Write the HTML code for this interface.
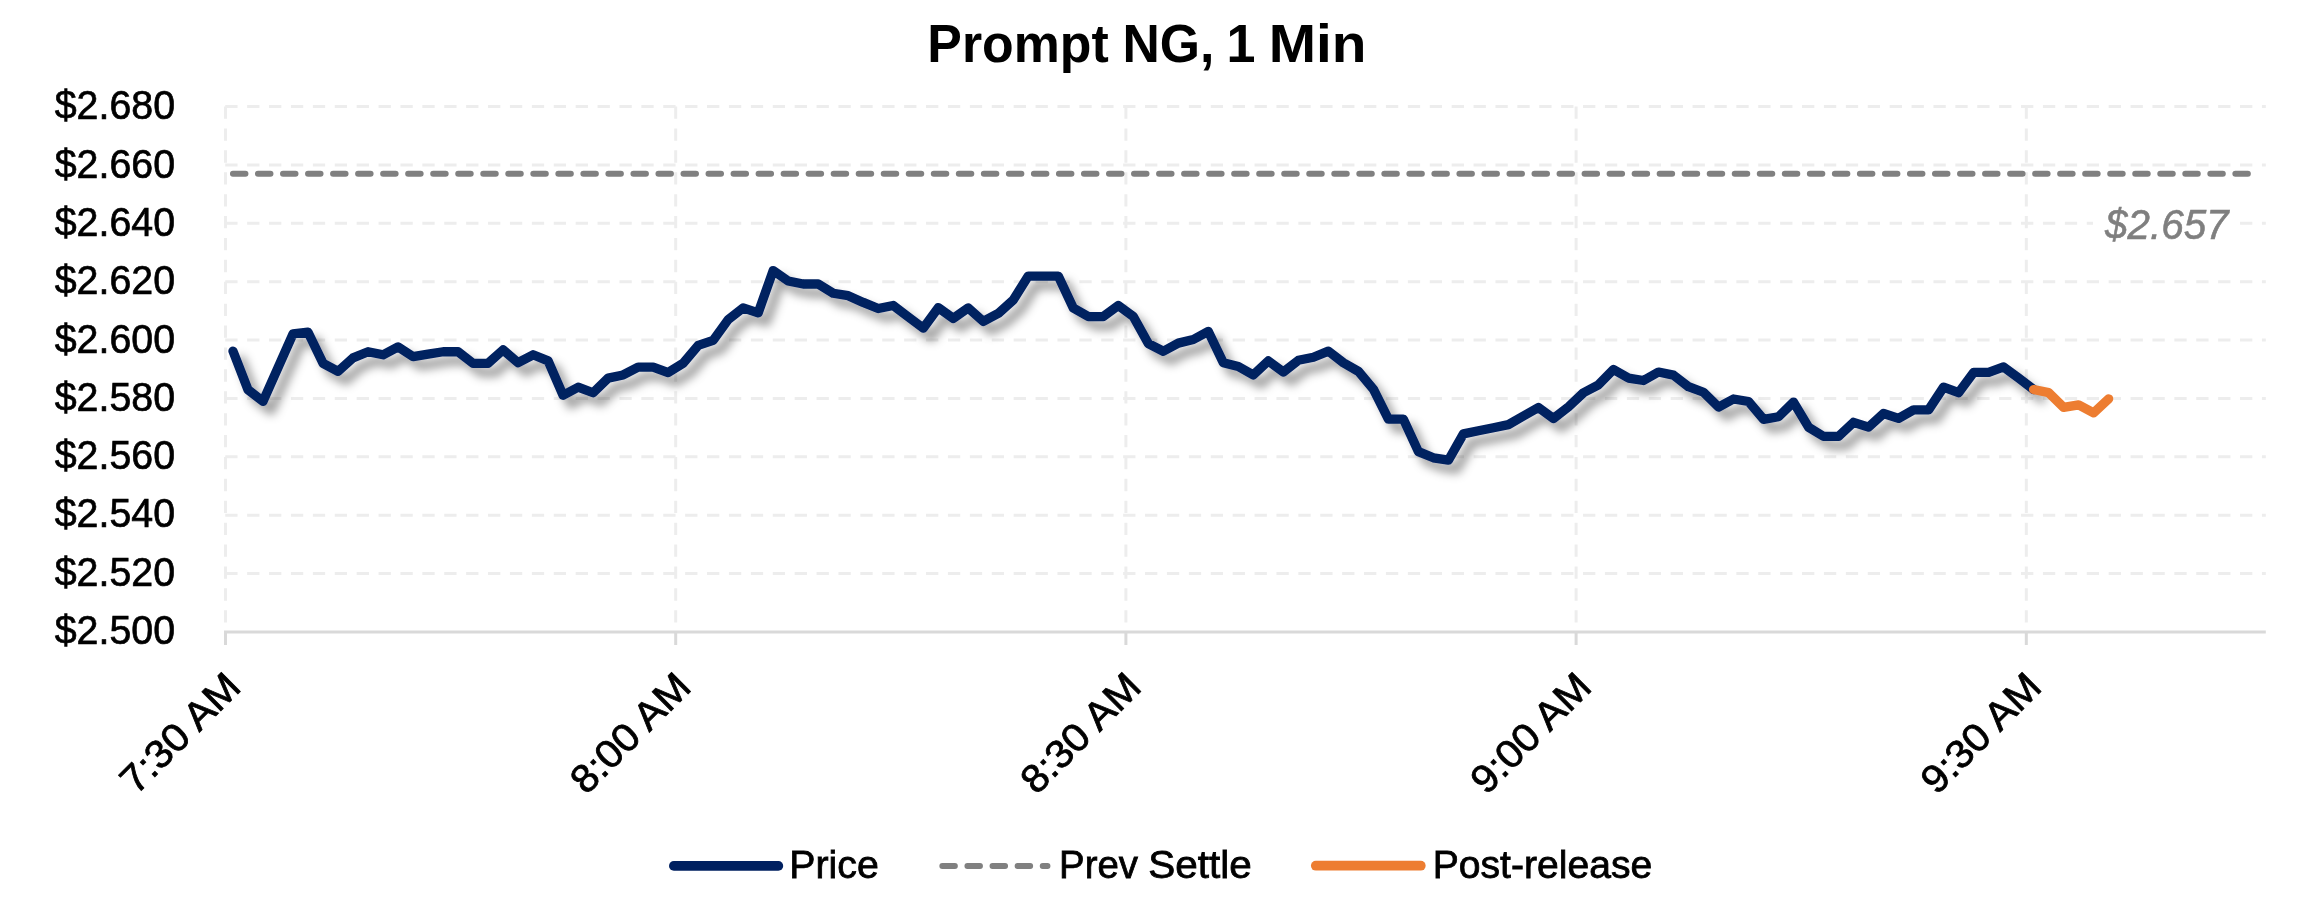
<!DOCTYPE html>
<html><head><meta charset="utf-8"><title>Prompt NG, 1 Min</title>
<style>html,body{margin:0;padding:0;background:#fff;}svg{display:block;will-change:transform;}</style>
</head><body>
<svg width="2324" height="902" viewBox="0 0 2324 902"><defs><filter id="sh" x="-5%" y="-20%" width="110%" height="140%"><feDropShadow dx="8" dy="9" stdDeviation="5" flood-color="#000" flood-opacity="0.38"/></filter></defs><rect width="2324" height="902" fill="#fff"/><line x1="225.25" y1="573.53" x2="2265.80" y2="573.53" stroke="#EDEDED" stroke-width="3" stroke-dasharray="12.3 9.6"/><line x1="225.25" y1="515.16" x2="2265.80" y2="515.16" stroke="#EDEDED" stroke-width="3" stroke-dasharray="12.3 9.6"/><line x1="225.25" y1="456.79" x2="2265.80" y2="456.79" stroke="#EDEDED" stroke-width="3" stroke-dasharray="12.3 9.6"/><line x1="225.25" y1="398.42" x2="2265.80" y2="398.42" stroke="#EDEDED" stroke-width="3" stroke-dasharray="12.3 9.6"/><line x1="225.25" y1="340.05" x2="2265.80" y2="340.05" stroke="#EDEDED" stroke-width="3" stroke-dasharray="12.3 9.6"/><line x1="225.25" y1="281.68" x2="2265.80" y2="281.68" stroke="#EDEDED" stroke-width="3" stroke-dasharray="12.3 9.6"/><line x1="225.25" y1="223.31" x2="2265.80" y2="223.31" stroke="#EDEDED" stroke-width="3" stroke-dasharray="12.3 9.6"/><line x1="225.25" y1="164.94" x2="2265.80" y2="164.94" stroke="#EDEDED" stroke-width="3" stroke-dasharray="12.3 9.6"/><line x1="225.25" y1="106.57" x2="2265.80" y2="106.57" stroke="#EDEDED" stroke-width="3" stroke-dasharray="12.3 9.6"/><line x1="225.50" y1="106.57" x2="225.50" y2="630.40" stroke="#EDEDED" stroke-width="3" stroke-dasharray="12.3 9.6"/><line x1="675.70" y1="106.57" x2="675.70" y2="630.40" stroke="#EDEDED" stroke-width="3" stroke-dasharray="12.3 9.6"/><line x1="1125.90" y1="106.57" x2="1125.90" y2="630.40" stroke="#EDEDED" stroke-width="3" stroke-dasharray="12.3 9.6"/><line x1="1576.10" y1="106.57" x2="1576.10" y2="630.40" stroke="#EDEDED" stroke-width="3" stroke-dasharray="12.3 9.6"/><line x1="2026.30" y1="106.57" x2="2026.30" y2="630.40" stroke="#EDEDED" stroke-width="3" stroke-dasharray="12.3 9.6"/><line x1="224.00" y1="631.90" x2="2265.80" y2="631.90" stroke="#D9D9D9" stroke-width="3"/><line x1="225.50" y1="631.90" x2="225.50" y2="645" stroke="#D9D9D9" stroke-width="3"/><line x1="675.70" y1="631.90" x2="675.70" y2="645" stroke="#D9D9D9" stroke-width="3"/><line x1="1125.90" y1="631.90" x2="1125.90" y2="645" stroke="#D9D9D9" stroke-width="3"/><line x1="1576.10" y1="631.90" x2="1576.10" y2="645" stroke="#D9D9D9" stroke-width="3"/><line x1="2026.30" y1="631.90" x2="2026.30" y2="645" stroke="#D9D9D9" stroke-width="3"/><rect x="2093" y="200" width="147" height="45" fill="#fff"/><line x1="233.00" y1="173.70" x2="2258.68" y2="173.70" stroke="#808080" stroke-width="6.1" stroke-linecap="round" stroke-dasharray="12.4 12.63"/><polyline points="233.00,351.15 248.01,389.75 263.01,401.40 278.02,367.64 293.02,333.97 308.03,332.16 323.03,363.31 338.04,371.36 353.04,357.89 368.05,351.76 383.05,354.77 398.06,346.83 413.06,356.58 428.07,354.17 443.07,351.76 458.08,351.76 473.08,363.31 488.09,363.31 503.09,349.85 518.10,362.71 533.10,354.77 548.11,360.90 563.11,395.27 578.12,387.23 593.12,392.76 608.13,378.09 623.13,374.97 638.14,367.03 653.14,367.03 668.15,372.56 683.15,363.31 698.16,345.43 713.16,340.40 728.17,319.60 743.17,307.94 758.18,312.86 773.18,270.55 788.19,281.01 803.19,284.02 818.20,284.02 833.20,293.27 848.21,295.68 863.21,302.41 878.22,308.54 893.22,305.53 908.23,316.88 923.23,328.14 938.24,307.64 953.24,318.39 968.25,307.94 983.25,321.41 998.26,313.47 1013.26,300.00 1028.27,276.08 1043.27,276.08 1058.28,276.08 1073.28,307.94 1088.29,316.58 1103.29,316.58 1118.30,305.53 1133.30,316.58 1148.31,343.52 1163.31,351.25 1178.32,343.11 1193.32,339.50 1208.33,331.46 1223.33,362.71 1238.34,366.43 1253.34,374.97 1268.35,360.90 1283.35,371.96 1298.36,360.30 1313.36,357.29 1328.37,351.15 1343.37,362.71 1358.38,371.36 1373.38,389.14 1388.39,419.09 1403.39,419.09 1418.40,451.65 1433.40,457.79 1448.41,460.20 1463.41,433.87 1478.42,430.75 1493.42,427.74 1508.43,424.62 1523.43,416.08 1538.44,407.54 1553.44,418.49 1568.45,406.83 1583.45,392.76 1598.46,384.82 1613.46,369.45 1628.47,378.09 1643.47,380.50 1658.48,372.06 1673.48,375.17 1688.49,386.73 1703.49,392.26 1718.50,407.03 1733.50,398.99 1748.51,401.50 1763.51,419.29 1778.52,416.78 1793.52,402.11 1808.53,427.23 1823.53,436.38 1838.54,436.38 1853.54,422.31 1868.55,427.13 1883.55,413.46 1898.56,418.39 1913.56,409.85 1928.57,409.85 1943.57,387.13 1958.58,392.66 1973.58,372.46 1988.59,372.46 2003.59,366.93 2018.60,377.99 2033.60,389.55" fill="none" stroke="#002060" stroke-width="9.3" stroke-linejoin="round" stroke-linecap="round" filter="url(#sh)"/><polyline points="2033.60,389.55 2048.61,392.66 2063.61,407.33 2078.62,404.92 2093.62,412.86 2108.63,398.79" fill="none" stroke="#ED7D31" stroke-width="9.3" stroke-linejoin="round" stroke-linecap="round"/><text x="927.35" y="62.40" font-family='"Liberation Sans", Arial, sans-serif' font-size="53.8" textLength="181.40" lengthAdjust="spacingAndGlyphs" font-weight="bold">Prompt</text><text x="1122.50" y="62.40" font-family='"Liberation Sans", Arial, sans-serif' font-size="53.8" textLength="91.95" lengthAdjust="spacingAndGlyphs" font-weight="bold">NG,</text><text x="1226.47" y="62.40" font-family='"Liberation Sans", Arial, sans-serif' font-size="53.8" textLength="28.96" lengthAdjust="spacingAndGlyphs" font-weight="bold">1</text><text x="1268.77" y="62.40" font-family='"Liberation Sans", Arial, sans-serif' font-size="53.8" textLength="97.81" lengthAdjust="spacingAndGlyphs" font-weight="bold">Min</text><text x="54.69" y="644.00" font-family='"Liberation Sans", Arial, sans-serif' font-size="41.4" textLength="120.34" lengthAdjust="spacingAndGlyphs" stroke="#000" stroke-width="0.7">$2.500</text><text x="54.69" y="585.70" font-family='"Liberation Sans", Arial, sans-serif' font-size="41.4" textLength="120.34" lengthAdjust="spacingAndGlyphs" stroke="#000" stroke-width="0.7">$2.520</text><text x="54.69" y="527.40" font-family='"Liberation Sans", Arial, sans-serif' font-size="41.4" textLength="120.34" lengthAdjust="spacingAndGlyphs" stroke="#000" stroke-width="0.7">$2.540</text><text x="54.69" y="469.10" font-family='"Liberation Sans", Arial, sans-serif' font-size="41.4" textLength="120.34" lengthAdjust="spacingAndGlyphs" stroke="#000" stroke-width="0.7">$2.560</text><text x="54.69" y="410.80" font-family='"Liberation Sans", Arial, sans-serif' font-size="41.4" textLength="120.34" lengthAdjust="spacingAndGlyphs" stroke="#000" stroke-width="0.7">$2.580</text><text x="54.69" y="352.50" font-family='"Liberation Sans", Arial, sans-serif' font-size="41.4" textLength="120.34" lengthAdjust="spacingAndGlyphs" stroke="#000" stroke-width="0.7">$2.600</text><text x="54.69" y="294.20" font-family='"Liberation Sans", Arial, sans-serif' font-size="41.4" textLength="120.34" lengthAdjust="spacingAndGlyphs" stroke="#000" stroke-width="0.7">$2.620</text><text x="54.69" y="235.90" font-family='"Liberation Sans", Arial, sans-serif' font-size="41.4" textLength="120.34" lengthAdjust="spacingAndGlyphs" stroke="#000" stroke-width="0.7">$2.640</text><text x="54.69" y="177.60" font-family='"Liberation Sans", Arial, sans-serif' font-size="41.4" textLength="120.34" lengthAdjust="spacingAndGlyphs" stroke="#000" stroke-width="0.7">$2.660</text><text x="54.69" y="119.30" font-family='"Liberation Sans", Arial, sans-serif' font-size="41.4" textLength="120.34" lengthAdjust="spacingAndGlyphs" stroke="#000" stroke-width="0.7">$2.680</text><text x="242.80" y="688.90" text-anchor="end" transform="rotate(-45 242.80 688.90)" font-family='"Liberation Sans", Arial, sans-serif' font-size="39.2" stroke="#000" stroke-width="0.8" textLength="151.00" lengthAdjust="spacingAndGlyphs">7:30 AM</text><text x="693.00" y="688.90" text-anchor="end" transform="rotate(-45 693.00 688.90)" font-family='"Liberation Sans", Arial, sans-serif' font-size="39.2" stroke="#000" stroke-width="0.8" textLength="151.00" lengthAdjust="spacingAndGlyphs">8:00 AM</text><text x="1143.20" y="688.90" text-anchor="end" transform="rotate(-45 1143.20 688.90)" font-family='"Liberation Sans", Arial, sans-serif' font-size="39.2" stroke="#000" stroke-width="0.8" textLength="151.00" lengthAdjust="spacingAndGlyphs">8:30 AM</text><text x="1593.40" y="688.90" text-anchor="end" transform="rotate(-45 1593.40 688.90)" font-family='"Liberation Sans", Arial, sans-serif' font-size="39.2" stroke="#000" stroke-width="0.8" textLength="151.00" lengthAdjust="spacingAndGlyphs">9:00 AM</text><text x="2043.60" y="688.90" text-anchor="end" transform="rotate(-45 2043.60 688.90)" font-family='"Liberation Sans", Arial, sans-serif' font-size="39.2" stroke="#000" stroke-width="0.8" textLength="151.00" lengthAdjust="spacingAndGlyphs">9:30 AM</text><text x="2105.00" y="239.10" font-family='"Liberation Sans", Arial, sans-serif' font-size="42.3" textLength="123.60" lengthAdjust="spacingAndGlyphs" font-style="italic" fill="#7F7F7F" stroke="#7F7F7F" stroke-width="0.6">$2.657</text><line x1="673.8" y1="865.9" x2="778.4" y2="865.9" stroke="#002060" stroke-width="9.6" stroke-linecap="round"/><text x="789.25" y="878.10" font-family='"Liberation Sans", Arial, sans-serif' font-size="39.4" textLength="89.49" lengthAdjust="spacingAndGlyphs" stroke="#000" stroke-width="0.8">Price</text><line x1="942.3" y1="866" x2="1047.5" y2="866" stroke="#808080" stroke-width="5.9" stroke-linecap="round" stroke-dasharray="12.6 12.5"/><text x="1059.09" y="878.00" font-family='"Liberation Sans", Arial, sans-serif' font-size="39.4" textLength="78.93" lengthAdjust="spacingAndGlyphs" stroke="#000" stroke-width="0.8">Prev</text><text x="1148.34" y="878.00" font-family='"Liberation Sans", Arial, sans-serif' font-size="39.4" textLength="103.39" lengthAdjust="spacingAndGlyphs" stroke="#000" stroke-width="0.8">Settle</text><line x1="1315.8" y1="865.7" x2="1420.8" y2="865.7" stroke="#ED7D31" stroke-width="9.7" stroke-linecap="round"/><text x="1432.74" y="878.20" font-family='"Liberation Sans", Arial, sans-serif' font-size="39.4" textLength="219.49" lengthAdjust="spacingAndGlyphs" stroke="#000" stroke-width="0.8">Post-release</text></svg>
</body></html>
